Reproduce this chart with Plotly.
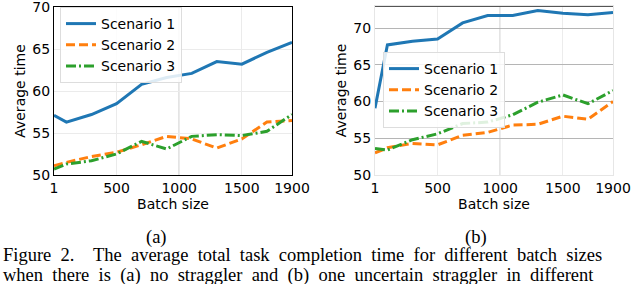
import plotly.graph_objects as go

batch = [1, 100, 300, 500, 700, 900, 1100, 1300, 1500, 1700, 1900]
names = ["Scenario 1", "Scenario 2", "Scenario 3"]

a_s1 = [57.1, 56.3, 57.2, 58.5, 60.8, 61.6, 62.1, 63.5, 63.2, 64.6, 65.8]
a_s2 = [51.1, 51.5, 52.2, 52.7, 53.6, 54.6, 54.3, 53.2, 54.3, 56.3, 56.5]
a_s3 = [50.7, 51.3, 51.7, 52.5, 54.0, 53.1, 54.6, 54.8, 54.7, 55.2, 57.2]

b_s1 = [59.1, 67.7, 68.2, 68.5, 70.7, 71.7, 71.7, 72.4, 72.0, 71.8, 72.1]
b_s2 = [53.0, 53.7, 54.3, 54.1, 55.4, 55.8, 56.8, 56.9, 58.0, 57.6, 60.0]
b_s3 = [53.6, 53.4, 54.8, 55.6, 57.0, 57.2, 58.2, 59.9, 60.9, 59.7, 61.5]

xticks = [1, 500, 1000, 1500, 1900]
yticks = [50, 55, 60, 65, 70]

caption1 = "Figure 2.  The average total task completion time for different batch sizes"
caption2 = "when there is (a) no straggler and (b) one uncertain straggler in different"

colors = ["#1f77b4", "#ff7f0e", "#2ca02c"]
dashes = ["solid", "9px,4px", "10px,3px,2px,3px"]

fig = go.Figure()

for i, ys in enumerate([a_s1, a_s2, a_s3]):
    fig.add_trace(go.Scatter(x=batch, y=ys, mode="lines", name=names[i],
                             line=dict(color=colors[i], width=3, dash=dashes[i]),
                             xaxis="x", yaxis="y", legend="legend"))
for i, ys in enumerate([b_s1, b_s2, b_s3]):
    fig.add_trace(go.Scatter(x=batch, y=ys, mode="lines", name=names[i],
                             line=dict(color=colors[i], width=3, dash=dashes[i]),
                             xaxis="x2", yaxis="y2", legend="legend2"))

tickfont = dict(family="DejaVu Sans", size=14, color="black")
titlefont = dict(family="DejaVu Sans", size=14, color="black")
legfont = dict(family="DejaVu Sans", size=14, color="black")
capfont = dict(family="Liberation Serif", size=18.5, color="black")

W, H = 640, 284
def px(x): return x / W
def py(y): return 1 - y / H

def justify(s, n):
    # LaTeX-style justified spacing: widen inter-word gaps
    return s.replace(" ", " " + "\u00a0" * n)

common_x = dict(range=[1, 1900], tickvals=xticks, ticktext=[str(t) for t in xticks],
                tickfont=tickfont, showgrid=True, zeroline=False, ticks="",
                ticklabeloverflow="allow", automargin=False,
                title=dict(text="Batch size", font=titlefont, standoff=0))
common_y = dict(tickvals=yticks, tickfont=tickfont, showgrid=True, zeroline=False,
                ticks="", ticklabeloverflow="allow", automargin=False,
                title=dict(text="Average time", font=titlefont, standoff=3))

fig.update_layout(
    width=W, height=H, margin=dict(l=0, r=0, t=0, b=0, autoexpand=False),
    paper_bgcolor="white", plot_bgcolor="white",
    xaxis=dict(common_x, domain=[px(54), px(292)], anchor="y",
               gridcolor="#ebebeb", showline=True, linecolor="black", linewidth=1, mirror=True),
    yaxis=dict(common_y, domain=[py(175), py(7)], range=[50, 70], anchor="x",
               gridcolor="#ebebeb", showline=True, linecolor="black", linewidth=1, mirror=True),
    xaxis2=dict(common_x, domain=[px(375), px(613)], anchor="y2",
                gridcolor="#ececec", showline=True, linecolor="#e6e6e6", linewidth=1, mirror=True),
    yaxis2=dict(common_y, domain=[py(175), py(6)], range=[50, 73], anchor="x2",
                gridcolor="#b5b5b5", showline=True, linecolor="#e6e6e6", linewidth=1, mirror=True),
    legend=dict(x=px(60), y=py(7), xanchor="left", yanchor="top",
                bgcolor="rgba(255,255,255,0.85)", bordercolor="#dddddd", borderwidth=1,
                font=legfont, tracegroupgap=0, itemwidth=30),
    legend2=dict(x=px(383), y=py(52), xanchor="left", yanchor="top",
                 bgcolor="rgba(255,255,255,0.85)", bordercolor="#dddddd", borderwidth=1,
                 font=legfont, tracegroupgap=0, itemwidth=30),
    shapes=[
        dict(type="line", xref="x", yref="y domain", x0=1000, x1=1000, y0=0, y1=1,
             line=dict(color="#a8a8a8", width=1), layer="below"),
        dict(type="line", xref="x2", yref="y2 domain", x0=1000, x1=1000, y0=0, y1=1,
             line=dict(color="#a8a8a8", width=1), layer="below"),
        dict(type="line", xref="x2 domain", yref="y2", x0=0, x1=1, y0=73, y1=73,
             line=dict(color="#555555", width=2)),
    ],
    annotations=[
        dict(text="(a)", x=px(156), y=py(237), xref="paper", yref="paper", showarrow=False,
             xanchor="center", yanchor="middle", font=capfont),
        dict(text="(b)", x=px(476), y=py(237), xref="paper", yref="paper", showarrow=False,
             xanchor="center", yanchor="middle", font=capfont),
        dict(text=justify(caption1, 1),
             x=px(1), y=py(255), xref="paper", yref="paper", xanchor="left", yanchor="middle",
             showarrow=False, font=capfont),
        dict(text=justify(caption2, 1),
             x=px(1), y=py(275), xref="paper", yref="paper", xanchor="left", yanchor="middle",
             showarrow=False, font=capfont),
    ],
)

fig.write_html("out.html", config={"displayModeBar": False},
               post_script="document.body.style.margin='0';")
